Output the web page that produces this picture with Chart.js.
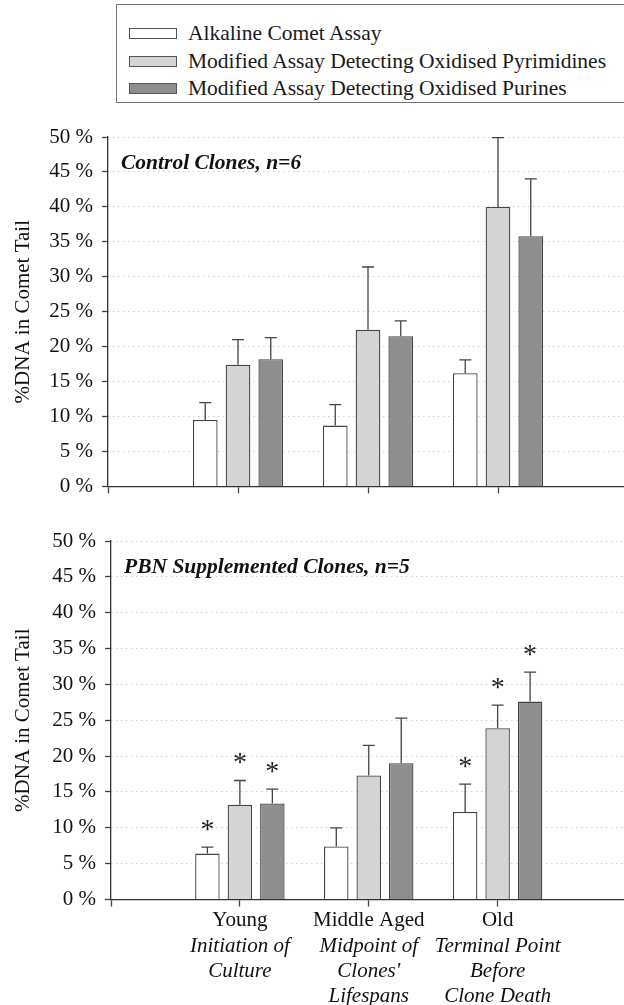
<!DOCTYPE html>
<html>
<head>
<meta charset="utf-8">
<script src="https://cdn.jsdelivr.net/npm/chart.js@4.4.1/dist/chart.umd.min.js"></script>
<style>
  html, body { margin: 0; padding: 0; background: #fff; width: 624px; height: 1005px; overflow: hidden; }
  #legend { position: absolute; left: 116px; top: 4px; width: 540px; height: 99px; box-sizing: border-box;
            border: 1px solid #777; font: 21.5px 'Liberation Serif', 'Times New Roman', serif; color: #1a1a1a; }
  #legend ul { list-style: none; margin: 0; padding: 15px 0 0 12px; }
  #legend li { display: flex; align-items: center; height: 27.5px; white-space: nowrap; }
  #legend .box { display: inline-block; width: 46px; height: 9px; border: 1px solid #555; margin-right: 11px; }
  canvas { position: absolute; left: 0; }
</style>
</head>
<body>
<div id="legend"><ul></ul></div>
<canvas id="topChart" width="628" height="400" style="top:108px"></canvas>
<canvas id="bottomChart" width="628" height="501" style="top:508px"></canvas>
<script>
// categories and sub-captions
const categories = ['Young', 'Middle Aged', 'Old'];
const categoryNotes = [['Initiation of', 'Culture'], ['Midpoint of', "Clones'", 'Lifespans'], ['Terminal Point', 'Before', 'Clone Death']];
const seriesNames = ['Alkaline Comet Assay', 'Modified Assay Detecting Oxidised Pyrimidines', 'Modified Assay Detecting Oxidised Purines'];
const seriesColors = ['#ffffff', '#d4d4d4', '#8e8e8e'];

// control clones, n=6 (mean and SD, %)
const controlAlkaline = [9.5, 8.7, 16.2];
const controlAlkalineSD = [2.5, 3.0, 1.9];
const controlPyrimidines = [17.4, 22.4, 40.0];
const controlPyrimidinesSD = [3.6, 9.0, 9.9];
const controlPurines = [18.2, 21.5, 35.8];
const controlPurinesSD = [3.1, 2.2, 8.2];

// PBN supplemented clones, n=5
const pbnAlkaline = [6.4, 7.4, 12.2];
const pbnAlkalineSD = [0.9, 2.6, 3.9];
const pbnPyrimidines = [13.2, 17.3, 23.9];
const pbnPyrimidinesSD = [3.4, 4.2, 3.2];
const pbnPurines = [13.4, 19.0, 27.6];
const pbnPurinesSD = [2.0, 6.3, 4.1];
// significance marks (*)
const pbnAlkalineStar = [true, false, true];
const pbnPyrimidinesStar = [true, false, true];
const pbnPurinesStar = [true, false, true];

const yMin = 0, yMax = 50, yStep = 5;

const FONT = "'Liberation Serif', 'Times New Roman', serif";

// empty slots at both ends so the categories sit at 1/4, 2/4, 3/4 of the axis
const pad = arr => [null, ...arr, null];
const labels = ['', ...categories, ''];
const notes = ['', ...categoryNotes, ''];

function makeSets(values, sds, stars) {
  return values.map((v, i) => ({
    label: seriesNames[i],
    data: pad(v),
    sd: pad(sds[i]),
    stars: stars ? pad(stars[i]) : null,
    backgroundColor: seriesColors[i],
    borderColor: '#444',
    borderWidth: 1.3,
    categoryPercentage: 0.756,
    barPercentage: 0.754
  }));
}

const errorBars = {
  id: 'errorBars',
  afterDatasetsDraw(chart) {
    const ctx = chart.ctx;
    const y = chart.scales.y;
    chart.data.datasets.forEach((ds, i) => {
      chart.getDatasetMeta(i).data.forEach((bar, j) => {
        const v = ds.data[j];
        if (v == null) return;
        const top = y.getPixelForValue(v + ds.sd[j]);
        ctx.save();
        ctx.strokeStyle = '#444';
        ctx.lineWidth = 1.3;
        ctx.beginPath();
        ctx.moveTo(bar.x, bar.y);
        ctx.lineTo(bar.x, top);
        ctx.moveTo(bar.x - 6, top);
        ctx.lineTo(bar.x + 6, top);
        ctx.stroke();
        if (ds.stars && ds.stars[j]) {
          ctx.fillStyle = '#222';
          ctx.font = '28px ' + FONT;
          ctx.textAlign = 'center';
          ctx.textBaseline = 'alphabetic';
          ctx.fillText('*', bar.x, top - 22 + 13);
        }
        ctx.restore();
      });
    });
  }
};

const panelTitle = {
  id: 'panelTitle',
  afterDraw(chart, args, opts) {
    const {ctx, chartArea} = chart;
    ctx.save();
    ctx.font = 'italic bold 21.5px ' + FONT;
    ctx.fillStyle = '#111';
    ctx.textBaseline = 'middle';
    ctx.fillText(opts.text, chartArea.left + 13, chartArea.top + 26);
    ctx.restore();
  }
};

const htmlLegend = {
  id: 'htmlLegend',
  afterUpdate(chart) {
    const ul = document.querySelector('#legend ul');
    ul.innerHTML = '';
    chart.data.datasets.forEach(ds => {
      const li = document.createElement('li');
      const box = document.createElement('span');
      box.className = 'box';
      box.style.background = ds.backgroundColor;
      li.appendChild(box);
      li.appendChild(document.createTextNode(ds.label));
      ul.appendChild(li);
    });
  }
};

function makePanel(id, sets, opts) {
  const scales = {
    x: {
      type: 'category',
      offset: false,
      grid: { offset: false, drawOnChartArea: false, drawTicks: true, tickLength: 7, tickColor: '#444', tickWidth: 1.3 },
      border: { color: '#333', width: 1.3 },
      ticks: {
        display: opts.showLabels, autoSkip: false, maxRotation: 0, padding: 1.5, color: '#111',
        font: { family: FONT, size: 21, lineHeight: 1.19 }
      },
      afterFit: s => { s.height = opts.showLabels ? 34.5 : 11; }
    },
    y: {
      min: yMin, max: yMax,
      ticks: { stepSize: yStep, padding: 9, color: '#111', font: { family: FONT, size: 21 }, callback: v => v + ' %' },
      grid: { color: 'rgba(140,140,140,0.6)', lineWidth: 1, tickLength: 6, tickColor: '#444', tickWidth: 1.3 },
      border: { color: '#333', width: 1.3, dash: [1, 4] },
      title: { display: true, text: '%DNA in Comet Tail', color: '#111', font: { family: FONT, size: 21 }, padding: { top: 11, bottom: 0 } },
      afterFit: s => { s.width = opts.axisX; }
    }
  };
  if (opts.showLabels) {
    scales.x2 = {
      type: 'category',
      position: 'bottom',
      offset: false,
      grid: { display: false, drawTicks: false, offset: false },
      border: { display: false },
      ticks: {
        autoSkip: false, maxRotation: 0, padding: 0, color: '#111',
        font: { family: FONT, size: 21, style: 'italic', lineHeight: 1.19 },
        callback: (v, i) => notes[i]
      },
      afterFit: s => { s.height = 75; }
    };
  }
  return new Chart(document.getElementById(id), {
    type: 'bar',
    data: { labels: labels, datasets: sets },
    options: {
      responsive: false,
      animation: false,
      layout: { padding: { top: opts.padTop, left: 0, right: 0, bottom: 0 } },
      scales: scales,
      plugins: {
        legend: { display: false },
        tooltip: { enabled: false },
        panelTitle: { text: opts.title }
      }
    },
    plugins: opts.legend ? [errorBars, panelTitle, htmlLegend] : [errorBars, panelTitle]
  });
}

makePanel('topChart',
  makeSets([controlAlkaline, controlPyrimidines, controlPurines],
           [controlAlkalineSD, controlPyrimidinesSD, controlPurinesSD]),
  { axisX: 108, padTop: 29, showLabels: false, title: 'Control Clones, n=6', legend: true });

makePanel('bottomChart',
  makeSets([pbnAlkaline, pbnPyrimidines, pbnPurines],
           [pbnAlkalineSD, pbnPyrimidinesSD, pbnPurinesSD],
           [pbnAlkalineStar, pbnPyrimidinesStar, pbnPurinesStar]),
  { axisX: 111, padTop: 33, showLabels: true, title: 'PBN Supplemented Clones, n=5', legend: false });
</script>
</body>
</html>
